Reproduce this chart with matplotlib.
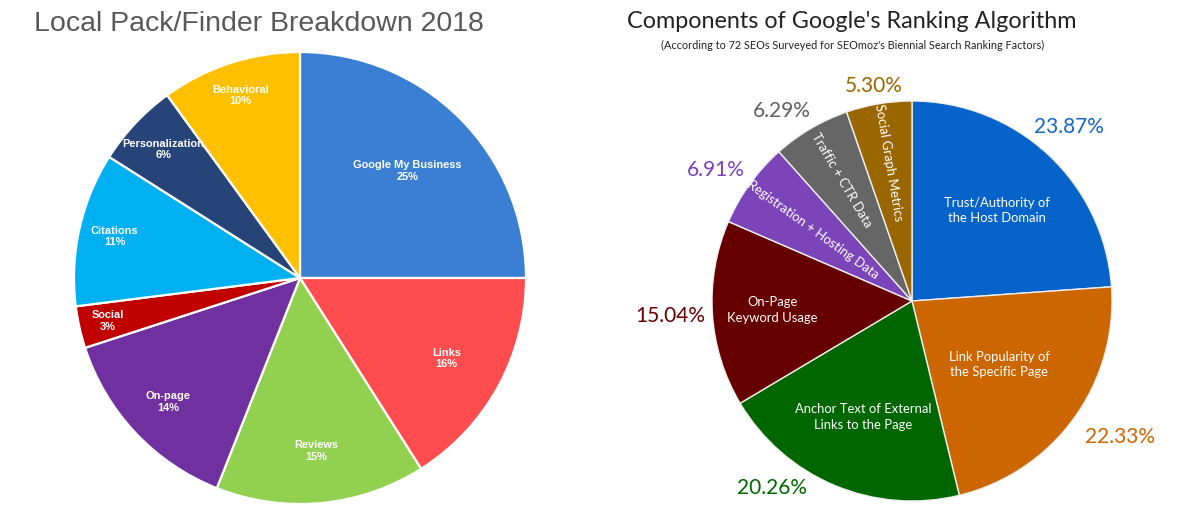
import numpy as np
import matplotlib.pyplot as plt

# left chart: Local Pack/Finder Breakdown 2018
local_labels = ["Google My Business", "Links", "Reviews", "On-page",
                "Social", "Citations", "Personalization", "Behavioral"]
local_values = [25, 16, 15, 14, 3, 11, 6, 10]
local_colors = ["#3a7fd3", "#fe4c4f", "#92d050", "#7030a0",
                "#c00000", "#00b0f0", "#264478", "#ffc000"]

# right chart: Components of Google's Ranking Algorithm
rank_labels = ["Trust/Authority of\nthe Host Domain",
               "Link Popularity of\nthe Specific Page",
               "Anchor Text of External\nLinks to the Page",
               "On-Page\nKeyword Usage",
               "Registration + Hosting Data",
               "Traffic + CTR Data",
               "Social Graph Metrics"]
rank_values = [23.87, 22.33, 20.26, 15.04, 6.91, 6.29, 5.30]
rank_colors = ["#0563c9", "#cc6600", "#006600", "#660000",
               "#7b44b8", "#666666", "#996600"]
rank_text_colors = ["#1565c8", "#cc6600", "#006600", "#660000",
                    "#7b3fb8", "#606060", "#996600"]

W, H = 1200, 515
RFONT = "Lato"


def axes_box(cx, cy, r):
    # pixel centre/radius -> figure fraction box
    return [(cx - r) / W, (H - cy - r) / H, 2 * r / W, 2 * r / H]


def mid_angle(w):
    return np.deg2rad((w.theta1 + w.theta2) / 2)


def plot_local(fig):
    ax = fig.add_axes(axes_box(300, 278, 226))
    wedges, _ = ax.pie(local_values, colors=local_colors, startangle=90,
                       counterclock=False,
                       wedgeprops=dict(edgecolor="white", linewidth=1.6))
    ax.set_xlim(-1, 1)
    ax.set_ylim(-1, 1)
    ax.set_aspect("equal")

    # label distances, roughly like Excel "best fit"
    dists = [0.67, 0.74, 0.77, 0.80, 0.87, 0.84, 0.83, 0.85]
    for w, lab, val, d in zip(wedges, local_labels, local_values, dists):
        a = mid_angle(w)
        ax.text(d * np.cos(a), d * np.sin(a), f"{lab}\n{val}%",
                ha="center", va="center", color="white",
                fontsize=7.9, fontweight="bold", family="Liberation Sans",
                linespacing=1.2)

    fig.text(259 / W, 1 - 24 / H, "Local Pack/Finder Breakdown 2018",
             ha="center", va="center", fontsize=20.5, color="#595959",
             family="Liberation Sans")


def plot_ranking(fig):
    ax = fig.add_axes(axes_box(912, 301, 200))
    wedges, _ = ax.pie(rank_values, colors=rank_colors, startangle=90,
                       counterclock=False,
                       wedgeprops=dict(edgecolor="#eeeeee", linewidth=1.0))
    ax.set_xlim(-1, 1)
    ax.set_ylim(-1, 1)
    ax.set_aspect("equal")

    inner_dist = [0.62, 0.54, 0.63, 0.70, 0.61, 0.70, 0.70]
    rotated = [False, False, False, False, True, True, True]
    for w, lab, d, rot in zip(wedges, rank_labels, inner_dist, rotated):
        a = mid_angle(w)
        angle = np.rad2deg(a) - 180 if rot else 0
        ax.text(d * np.cos(a), d * np.sin(a), lab, ha="center", va="center",
                color="white", fontsize=9.4, family=RFONT,
                rotation=angle, rotation_mode="anchor", linespacing=1.35)

    # outer percent labels
    out_dist = [1.17, 1.24, 1.17, 1.21, 1.18, 1.15, 1.09]
    out_shift = [1, 3, -14, 0, 2, 4, 0.5]
    for w, val, c, d, s in zip(wedges, rank_values, rank_text_colors,
                               out_dist, out_shift):
        a = mid_angle(w) + np.deg2rad(s)
        ax.text(d * np.cos(a), d * np.sin(a), f"{val:.2f}%",
                ha="center", va="center", color=c, fontsize=15,
                family=RFONT)

    fig.text(852 / W, 1 - 22 / H, "Components of Google's Ranking Algorithm",
             ha="center", va="center", fontsize=16.8, color="#222222",
             family=RFONT)
    fig.text(853 / W, 1 - 45 / H,
             "(According to 72 SEOs Surveyed for SEOmoz's Biennial Search Ranking Factors)",
             ha="center", va="center", fontsize=7.8, color="#222222",
             family=RFONT)


def main():
    fig = plt.figure(figsize=(W / 100, H / 100), dpi=100)
    fig.patch.set_facecolor("white")
    plot_local(fig)
    plot_ranking(fig)
    fig.savefig("out.png", dpi=100)
    plt.close(fig)


if __name__ == "__main__":
    main()
